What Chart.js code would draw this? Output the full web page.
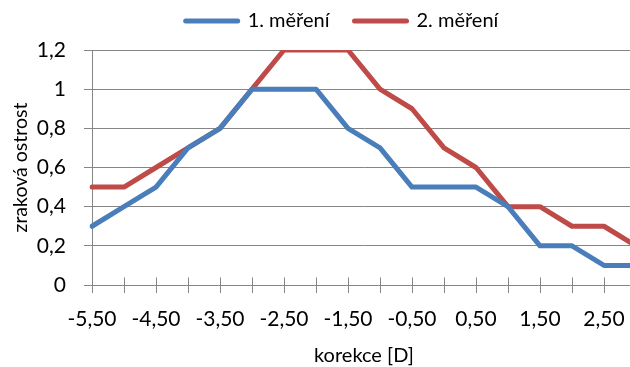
<!DOCTYPE html>
<html>
<head>
<meta charset="utf-8">
<script src="https://cdn.jsdelivr.net/npm/chart.js@4/dist/chart.umd.min.js"></script>
<style>
  html, body { margin: 0; padding: 0; background: #fff; overflow: hidden; width: 630px; height: 367px; }
  #wrap { position: absolute; left: 0; top: 0; width: 684px; height: 367px; }
</style>
</head>
<body>
<div id="wrap"><canvas id="c" width="684" height="367"></canvas></div>
<script>
// korekce [D] – one point every 0.5 D
const korekce = [-5.5, -5, -4.5, -4, -3.5, -3, -2.5, -2, -1.5, -1, -0.5, 0, 0.5, 1, 1.5, 2, 2.5, 3];
// zraková ostrost
const mereni1 = [0.3, 0.4, 0.5, 0.7, 0.8, 1, 1, 1, 0.8, 0.7, 0.5, 0.5, 0.5, 0.4, 0.2, 0.2, 0.1, 0.1];
const mereni2 = [0.5, 0.5, 0.6, 0.7, 0.8, 1, 1.2, 1.2, 1.2, 1, 0.9, 0.7, 0.6, 0.4, 0.4, 0.3, 0.3, 0.2];
const seriesNames = ['1. měření', '2. měření'];
const yMin = 0, yMax = 1.2, yStep = 0.2;

const FONT = "Lato, 'Open Sans', sans-serif";
const GRID = '#868686';
const BLUE = '#4A7EBB';
const RED = '#BE4B48';

const fmtX = v => Number(v).toFixed(2).replace('.', ',');
const fmtY = v => String(Math.round(v * 10) / 10).replace('.', ',');

// tick marks that cross the category axis (upper half; lower half is the grid tick)
const crossTicks = {
  id: 'crossTicks',
  beforeDatasetsDraw(chart) {
    const x = chart.scales.x;
    const ctx = chart.ctx;
    const yb = Math.round(chart.chartArea.bottom) + 0.5;
    ctx.save();
    ctx.strokeStyle = GRID;
    ctx.lineWidth = 1;
    ctx.beginPath();
    x.ticks.forEach((t, i) => {
      const px = Math.round(x.getPixelForTick(i)) + 0.5;
      ctx.moveTo(px, yb - 8);
      ctx.lineTo(px, yb);
    });
    ctx.stroke();
    ctx.restore();
  }
};

// keep a wider gap between the legend row and the plot area
const legendLift = {
  id: 'legendLift',
  afterLayout(chart) {
    const lg = chart.legend;
    if (lg) { lg.top -= 9; lg.bottom -= 9; }
  }
};

const lineDs = (label, data, color) => ({
  label, data,
  borderColor: color, backgroundColor: color,
  borderWidth: 5, pointRadius: 0, pointHoverRadius: 0,
  borderJoinStyle: 'round', borderCapStyle: 'round',
  tension: 0, fill: false
});

new Chart(document.getElementById('c'), {
  type: 'line',
  data: {
    labels: korekce,
    datasets: [
      lineDs(seriesNames[0], mereni1, BLUE),
      lineDs(seriesNames[1], mereni2, RED)
    ]
  },
  options: {
    responsive: false,
    animation: false,
    devicePixelRatio: 1,
    layout: { padding: { left: 0, right: 0, top: -10, bottom: 0 } },
    plugins: {
      tooltip: { enabled: false },
      legend: {
        position: 'top',
        align: 'center',
        labels: {
          usePointStyle: true,
          pointStyle: 'line',
          pointStyleWidth: 52,
          padding: 25,
          color: '#000',
          font: { family: FONT, size: 20 },
          generateLabels(chart) {
            const items = Chart.defaults.plugins.legend.labels.generateLabels(chart);
            items.forEach(it => {
              const ds = chart.data.datasets[it.datasetIndex];
              it.lineCap = 'round';
              it.lineWidth = 5;
              it.strokeStyle = ds.borderColor;
            });
            return items;
          }
        }
      }
    },
    scales: {
      x: {
        type: 'category',
        offset: false,
        grid: { display: true, drawOnChartArea: false, color: GRID, tickLength: 8, lineWidth: 1 },
        border: { display: true, color: GRID, width: 1 },
        ticks: {
          autoSkip: false, maxRotation: 0, minRotation: 0,
          color: '#000', font: { family: FONT, size: 21 }, padding: 14,
          callback: (v, i) => (i % 2 === 0 ? fmtX(korekce[i]) : '')
        },
        title: { display: true, text: 'korekce [D]', color: '#000', font: { family: FONT, size: 20 }, padding: { top: 0, bottom: -1 } },
        afterFit(s) { s.height = 82; s.paddingRight = 48; }
      },
      y: {
        min: yMin, max: yMax,
        grid: { color: GRID, tickLength: 8, lineWidth: 1 },
        border: { display: true, color: GRID, width: 1 },
        ticks: { stepSize: yStep, color: '#000', font: { family: FONT, size: 21 }, padding: 18, callback: v => fmtY(v) },
        title: { display: true, text: 'zraková ostrost', color: '#000', font: { family: FONT, size: 19.5 }, padding: { top: 9, bottom: 0 } },
        afterFit(s) { s.width = 92; s.paddingTop = 50; }
      }
    }
  },
  plugins: [crossTicks, legendLift]
});
</script>
</body>
</html>
